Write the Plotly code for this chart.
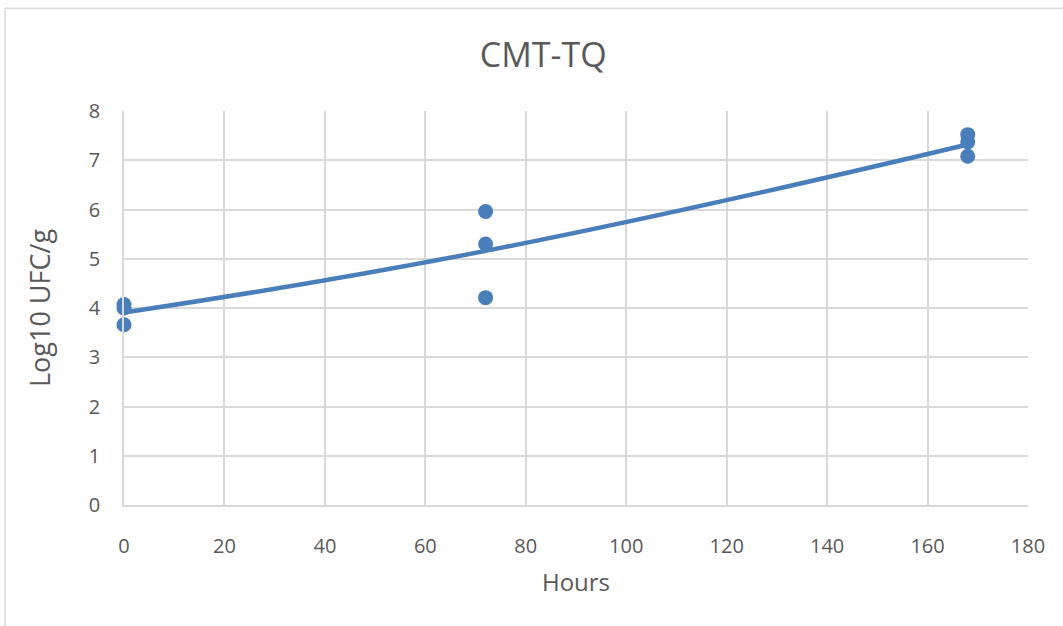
import plotly.graph_objects as go

# Replicate counts (log10 UFC/g) at each sampling time
hours_points = [0, 0, 0, 72, 72, 72, 168, 168, 168]
log_counts = [4.07, 4.00, 3.66, 5.96, 5.30, 4.21, 7.52, 7.37, 7.08]

# Mean of the replicates per sampling time (smoothed trend line)
hours_mean = [0, 72, 168]
log_mean = [3.91, 5.16, 7.32]

x_ticks = [0, 20, 40, 60, 80, 100, 120, 140, 160, 180]
y_ticks = [0, 1, 2, 3, 4, 5, 6, 7, 8]

BLUE = "#4A7EBB"
GRID = "#D9D9D9"
TEXT = "#595959"
FONT = "Open Sans, Noto Sans, sans-serif"

fig = go.Figure()
fig.add_trace(go.Scatter(
    x=hours_mean, y=log_mean, mode="lines",
    line=dict(color=BLUE, width=4.5, shape="spline", smoothing=1.3),
    hoverinfo="skip", showlegend=False, cliponaxis=False,
))
fig.add_trace(go.Scatter(
    x=hours_points, y=log_counts, mode="markers",
    marker=dict(color=BLUE, size=15, line=dict(width=0)),
    showlegend=False, cliponaxis=False,
))

# Chart-area frame (top and left edges)
fig.add_shape(type="line", xref="paper", yref="paper",
              x0=-0.1316, x1=1.05, y0=1.2608, y1=1.2608,
              line=dict(color=GRID, width=1.5))
fig.add_shape(type="line", xref="paper", yref="paper",
              x0=-0.1316, x1=-0.1316, y0=1.2608, y1=-0.35,
              line=dict(color=GRID, width=1.5))

fig.update_layout(
    width=1063, height=626,
    margin=dict(l=124, r=35, t=111, b=121),
    paper_bgcolor="white", plot_bgcolor="white",
    font=dict(family=FONT, color=TEXT),
    title=dict(text="CMT-TQ", x=0.511, xanchor="center", y=0.912, yanchor="middle",
               font=dict(size=34, color=TEXT, family=FONT)),
    xaxis=dict(
        range=[0, 180], tickvals=x_ticks, ticktext=[str(v) for v in x_ticks],
        showgrid=True, gridcolor=GRID, gridwidth=1.5,
        zeroline=False, showline=True, linecolor=GRID, linewidth=1.5, mirror=False,
        ticks="", tickfont=dict(size=20, color=TEXT), ticklabelstandoff=22,
        title=dict(text="Hours", font=dict(size=24, color=TEXT), standoff=16),
    ),
    yaxis=dict(
        range=[0, 8], tickvals=y_ticks, ticktext=[str(v) for v in y_ticks],
        showgrid=True, gridcolor=GRID, gridwidth=1.5,
        zeroline=False, showline=True, linecolor=GRID, linewidth=1.5,
        ticks="", tickfont=dict(size=20, color=TEXT), ticklabelstandoff=18,
        title=dict(text="Log10 UFC/g", font=dict(size=27, color=TEXT), standoff=30),
    ),
)

fig.write_html("out.html")
